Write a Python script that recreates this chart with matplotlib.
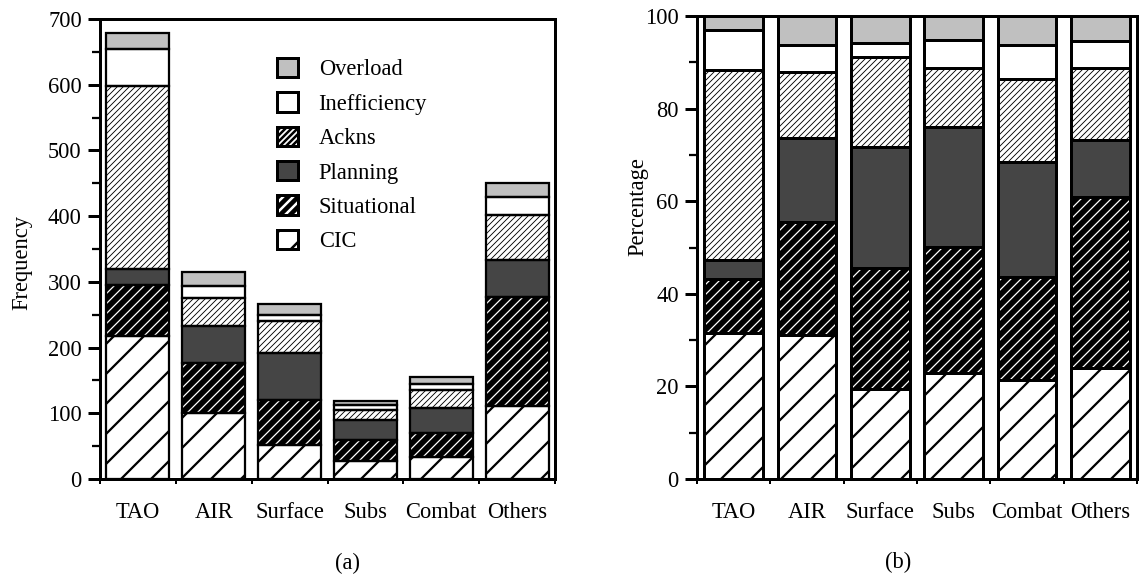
import numpy as np
import matplotlib
matplotlib.use("Agg")
import matplotlib.pyplot as plt
from matplotlib.patches import Patch
from matplotlib.legend_handler import HandlerTuple
from matplotlib.ticker import MultipleLocator

plt.rcParams['font.family'] = ['Liberation Serif', 'DejaVu Serif']

categories = ['TAO', 'AIR', 'Surface', 'Subs', 'Combat', 'Others']
series_names = ['CIC', 'Situational', 'Planning', 'Ackns', 'Inefficiency', 'Overload']

# (a) frequency counts, stacked bottom -> top
freq_cic = [217, 100, 52, 27, 33, 111]
freq_situational = [78, 76, 68, 32, 37, 166]
freq_planning = [24, 57, 71, 31, 38, 56]
freq_ackns = [279, 43, 50, 15, 27, 69]
freq_inefficiency = [56, 17, 9, 7, 10, 27]
freq_overload = [24, 22, 16, 6, 10, 22]

# (b) percentages, stacked bottom -> top
pct_cic = [31.5, 31.0, 19.5, 23.0, 21.4, 24.0]
pct_situational = [11.6, 24.6, 26.0, 27.2, 22.3, 37.0]
pct_planning = [4.2, 18.0, 26.3, 25.9, 24.8, 12.2]
pct_ackns = [41.0, 14.4, 19.4, 12.6, 18.0, 15.6]
pct_inefficiency = [8.7, 5.7, 3.0, 6.1, 7.2, 5.9]
pct_overload = [3.0, 6.3, 5.8, 5.2, 6.3, 5.3]

freq_data = [freq_cic, freq_situational, freq_planning, freq_ackns,
             freq_inefficiency, freq_overload]
pct_data = [pct_cic, pct_situational, pct_planning, pct_ackns,
            pct_inefficiency, pct_overload]

# face colour, hatch colour, hatch pattern, hatch line width
styles = {
    'CIC':          ('white',   'black', '//',         0.9),
    'Situational':  ('black',   'white', '//////',     0.5),
    'Planning':     ('#454545', '#454545', '',         0.5),
    'Ackns':        ('white',   'black', '//////////', 0.35),
    'Inefficiency': ('white',   'white', '',           0.5),
    'Overload':     ('#c0c0c0', '#c0c0c0', '',         0.5),
}

DPI = 180
fig = plt.figure(figsize=(1139 / DPI, 579 / DPI), dpi=DPI)
ax1 = fig.add_axes([100 / 1139, 100 / 579, 455 / 1139, 460 / 579])
ax2 = fig.add_axes([697 / 1139, 100 / 579, 440 / 1139, 463 / 579])

x = np.arange(len(categories)) + 0.5


def hatch_bar(ax, bottom, vals, name, width, lw):
    face, hcol, hatch, hlw = styles[name]
    fill = ax.bar(x, vals, width, bottom=bottom, color=face, edgecolor=hcol,
                  hatch=hatch, linewidth=0, zorder=2)
    for p in fill.patches:
        if hasattr(p, 'set_hatch_linewidth'):
            p.set_hatch_linewidth(hlw)
    ax.bar(x, vals, width, bottom=bottom, fill=False, edgecolor='black',
           linewidth=lw, zorder=3)


def draw(ax, data, width, lw):
    bottom = np.zeros(len(categories))
    for name, vals in zip(series_names, data):
        hatch_bar(ax, bottom, vals, name, width, lw)
        bottom += np.array(vals)


draw(ax1, freq_data, 0.83, 0.9)
draw(ax2, pct_data, 0.8, 1.2)

for ax, top, major, minor in [(ax1, 700, 100, 50), (ax2, 100, 20, 10)]:
    ax.set_xlim(0, 6)
    ax.set_ylim(0, top)
    ax.yaxis.set_major_locator(MultipleLocator(major))
    ax.yaxis.set_minor_locator(MultipleLocator(minor))
    ax.set_xticks(x)
    ax.set_xticklabels(categories)
    ax.set_xticks(np.arange(0, 7), minor=True)
    ax.tick_params(axis='x', which='major', length=0, pad=9, labelsize=9)
    ax.tick_params(axis='x', which='minor', length=2, width=0.8, direction='out')
    ax.tick_params(axis='y', which='major', length=4.8, width=1.2, pad=2.5,
                   labelsize=9, direction='out')
    ax.tick_params(axis='y', which='minor', length=3.2, width=0.9, direction='out')
    for s in ax.spines.values():
        s.set_linewidth(1.2)

fig.text(22 / 1139, 1 - 262 / 579, 'Frequency', rotation=90, fontsize=9,
         ha='center', va='center')
fig.text(638 / 1139, 1 - 207 / 579, 'Percentage', rotation=90, fontsize=9,
         ha='center', va='center')
fig.text(347 / 1139, 1 - 563 / 579, '(a)', fontsize=9, ha='center', va='center')
fig.text(898 / 1139, 1 - 562 / 579, '(b)', fontsize=9, ha='center', va='center')

# legend, top entry first
handles = []
for name in series_names[::-1]:
    face, hcol, hatch, hlw = styles[name]
    p1 = Patch(facecolor=face, edgecolor=hcol, hatch=hatch, linewidth=0)
    if hasattr(p1, 'set_hatch_linewidth'):
        p1.set_hatch_linewidth(hlw)
    p2 = Patch(fill=False, edgecolor='black', linewidth=1.2)
    handles.append((p1, p2))
ax1.legend(handles, series_names[::-1], handler_map={tuple: HandlerTuple(ndivide=1)},
           loc='upper left', bbox_to_anchor=((277 - 100) / 455, (479 - 58) / 460),
           frameon=False, fontsize=9, handlelength=0.95, handleheight=0.95,
           handletextpad=0.9, labelspacing=0.53, borderpad=0, borderaxespad=0)

fig.savefig('out.png', dpi=DPI)
